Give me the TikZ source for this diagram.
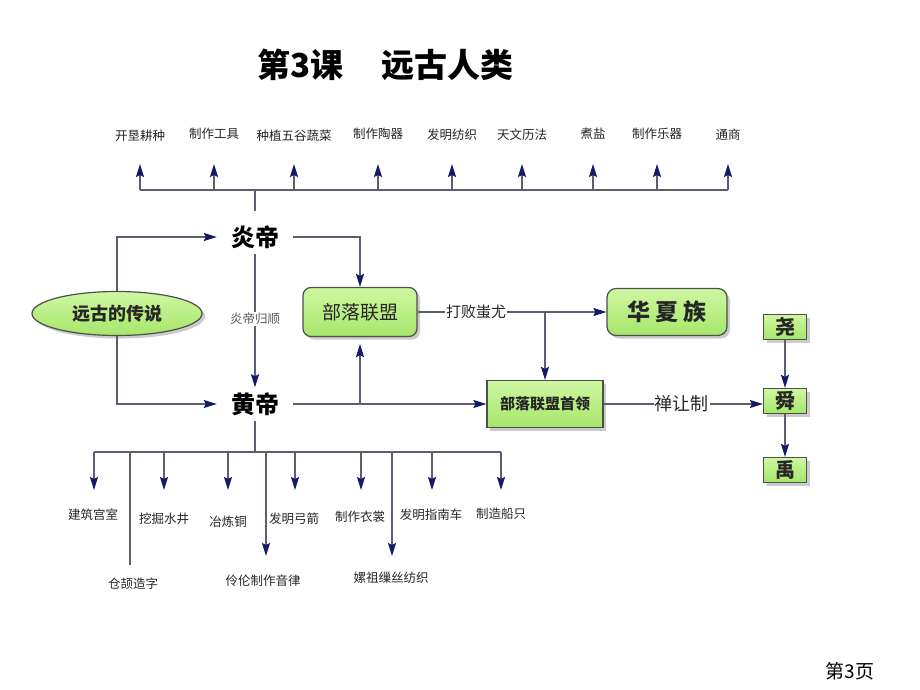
\documentclass[tikz,border=0pt]{standalone}
\usepackage{fontspec}
\setmainfont{Noto Sans CJK SC}
\usetikzlibrary{arrows.meta,shapes.geometric,shadows,calc}
\definecolor{lineg}{HTML}{5C5E6E}
\definecolor{tipc}{HTML}{15196A}
\definecolor{gtop}{HTML}{CFF7A2}
\definecolor{gbot}{HTML}{A6E66A}
\definecolor{bordc}{HTML}{4A504A}
\definecolor{txt}{HTML}{262626}
\begin{document}
\begin{tikzpicture}[x=1pt,y=-1pt,
  conn/.style={draw=lineg, line width=1.3pt},
  arr/.style={conn, -{Stealth[length=13pt,width=8pt,inset=2pt,color=tipc]}},
  lbl/.style={font=\fontsize{12.5}{14}\selectfont, text=txt, inner sep=2pt},
  emp/.style={font=\bfseries\fontsize{24}{28}\selectfont, text=black, inner xsep=14pt, inner ysep=5pt},
  gbox/.style={draw=bordc, line width=1.2pt, top color=gtop, bottom color=gbot, text=txt,
    drop shadow={shadow xshift=3pt, shadow yshift=-3pt, fill=black!40}},
  midlbl/.style={fill=white, inner sep=1pt, text=txt}
]
\useasboundingbox[fill=white] (0,0) rectangle (920,690);

% title and page number
\node[font=\bfseries\fontsize{33}{38}\selectfont] (title) at (385.5,65) {第3课\hspace{38pt}远古人类};
\node[font=\fontsize{19}{22}\selectfont, text=black] (page) at (850,671) {第3页};

% main nodes
\node[emp] (yandi) at (255,237) {炎帝};
\node[emp] (huangdi) at (255,404) {黄帝};
\node[gbox, ellipse, minimum width=170pt, minimum height=44pt, inner sep=0pt,
      font=\bfseries\fontsize{18}{20}\selectfont] (legend) at (117,313.5) {远古的传说};
\node[gbox, rounded corners=8pt, minimum width=114pt, minimum height=49pt, inner sep=0pt,
      font=\fontsize{19}{22}\selectfont] (blm) at (360,312) {部落联盟};
\node[gbox, rounded corners=9pt, minimum width=120pt, minimum height=47pt, inner sep=0pt,
      font=\bfseries\fontsize{23}{26}\selectfont] (hxz) at (667,312) {华\hspace{5pt}夏\hspace{5pt}族};
\node[gbox, minimum width=116pt, minimum height=47pt, inner sep=0pt,
      font=\bfseries\fontsize{15}{17}\selectfont] (sl) at (545,404) {部落联盟首领};
\node[gbox, minimum width=43pt, minimum height=25pt, inner sep=0pt,
      font=\bfseries\fontsize{20}{22}\selectfont] (yao) at (785,327) {尧};
\node[gbox, minimum width=43pt, minimum height=25pt, inner sep=0pt,
      font=\bfseries\fontsize{20}{22}\selectfont] (shun) at (785,401) {舜};
\node[gbox, minimum width=43pt, minimum height=25pt, inner sep=0pt,
      font=\bfseries\fontsize{20}{22}\selectfont] (yu) at (785,470) {禹};

% top labels
\node[lbl] (t1) at (140,136) {开垦耕种};
\node[lbl] (t2) at (214,134) {制作工具};
\node[lbl] (t3) at (294,136) {种植五谷蔬菜};
\node[lbl] (t4) at (378,134) {制作陶器};
\node[lbl] (t5) at (452,135) {发明纺织};
\node[lbl] (t6) at (522,135) {天文历法};
\node[lbl] (t7) at (593,134) {煮盐};
\node[lbl] (t8) at (657,134) {制作乐器};
\node[lbl] (t9) at (728,135) {通商};

% bottom labels
\node[lbl] (b1) at (93,515) {建筑宫室};
\node[lbl] (b2) at (133,584) {仓颉造字};
\node[lbl] (b3) at (164,519) {挖掘水井};
\node[lbl] (b4) at (228,522) {冶炼铜};
\node[lbl] (b5) at (263,581) {伶伦制作音律};
\node[lbl] (b6) at (294,519) {发明弓箭};
\node[lbl] (b7) at (360,517) {制作衣裳};
\node[lbl] (b8) at (391,578) {嫘祖缫丝纺织};
\node[lbl] (b9) at (431,515) {发明指南车};
\node[lbl] (b10) at (501,514) {制造船只};

% top bar
\coordinate (tb) at (255,190);
\coordinate (tl) at (140,190);
\coordinate (tr) at (728,190);
\draw[conn] ($(yandi.north)+(0,-9)$) -- (tb);
\draw[conn] (tl) -- (tr);
\foreach \t/\x in {t1/140,t2/214,t3/294,t4/378,t5/452,t6/522,t7/593,t8/657,t9/728}{
  \draw[arr] (\x,190) -- (\x,164);
}

% left connectors
\draw[arr] (legend.north) |- (yandi.west);
\draw[arr] (legend.south) |- (huangdi.west);
\draw[arr] (yandi.south) -- node[midlbl, font=\fontsize{12.5}{14}\selectfont, text=black!65, pos=0.49]{炎帝归顺} (huangdi.north);

% 炎帝 to 部落联盟
\draw[arr] (yandi.east) -| (blm.north);
% 黄帝 to 首领 and 部落联盟
\draw[arr] (huangdi.east) -- (sl.west);
\coordinate (hj) at (blm.south |- huangdi.east);
\draw[arr, shorten >=7pt] (hj) -- (blm.south);
% 部落联盟 to 华夏族
\draw[arr] (blm.east) -- node[midlbl, pos=0.31, font=\fontsize{15}{17}\selectfont]{打败蚩尤} (hxz.west);
\coordinate (sj) at (sl.north |- blm.east);
\draw[arr] (sj) -- (sl.north);
% 首领 to 舜
\coordinate (se) at (shun.west |- sl.east);
\draw[arr] (sl.east) -- node[midlbl, pos=0.49, font=\fontsize{18}{20}\selectfont]{禅让制} (se);
\draw[arr] (yao) -- (shun);
\draw[arr] (shun) -- (yu);

% bottom bar
\coordinate (bb) at (255,452);
\coordinate (bl) at (94,452);
\coordinate (br) at (501,452);
\draw[conn] (huangdi.south) -- (bb);
\draw[conn] (bl) -- (br);
\foreach \x in {94,164,228,295,361,432,501}{
  \draw[arr] (\x,452) -- (\x,490);
}
\draw[arr] (266,452) -- (266,556);
\draw[arr] (392,452) -- (392,556);
\draw[conn] (130,452) -- (130,565);
\end{tikzpicture}
\end{document}
